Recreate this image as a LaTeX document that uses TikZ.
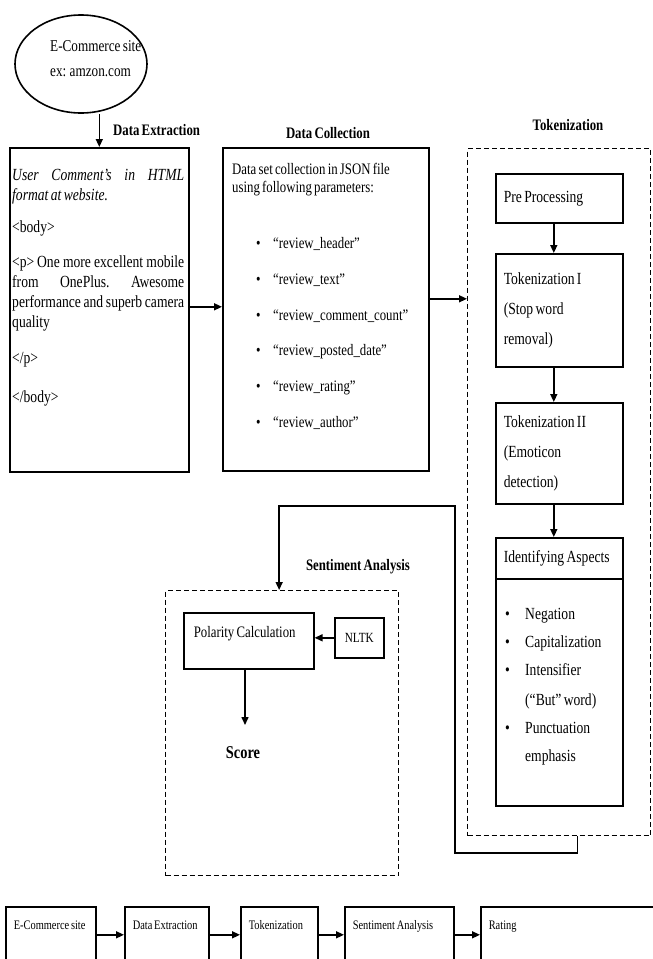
\documentclass[tikz,border=0pt]{standalone}
\usepackage{fontspec}
\setmainfont{Liberation Serif}[FakeStretch=0.8,WordSpace=0.7]
\usetikzlibrary{arrows.meta,shapes.geometric,positioning}

\def\bul{\makebox[20pt][l]{\textbullet}}
\def\dbul{\hspace*{24pt}\makebox[17pt][l]{\textbullet}}

\begin{document}
\begin{tikzpicture}[x=1pt,y=-1pt,
  box/.style={draw=black,line width=1.6pt,anchor=north west,inner xsep=8pt,inner ysep=0pt,align=flush left},
  sbox/.style={draw=black,line width=1.6pt,anchor=north west,inner sep=0pt},
  dashbox/.style={draw=black,line width=1.3pt,dash pattern=on 5pt off 3pt,anchor=north west,inner sep=0pt},
  title/.style={font=\fontsize{16}{18}\selectfont\bfseries,inner sep=0pt},
  plain/.style={inner sep=0pt,anchor=north west,align=flush left},
  rowbox/.style={box,font=\fontsize{13}{14}\selectfont,text height=23pt,text depth=33pt},
  arr/.style={line width=1.5pt,-{Triangle[length=8pt,width=7pt]}}]

\useasboundingbox (0,0) rectangle (653,959);
\clip (0,0) rectangle (653,959);

% site and data extraction %
\node[draw,ellipse,line width=1.6pt,minimum width=132pt,minimum height=98pt,inner sep=0pt] (site) at (81,64) {};
\node[plain,font=\fontsize{16.5}{25}\selectfont] (siteT) at (50,40.5) {E-Commerce site\\ex: amzon.com};
\node[title,anchor=west] (extL) at (113,130) {Data Extraction};
\node[sbox,minimum width=179pt,minimum height=324pt] (ext) at (9,147) {};
\node[plain,text width=172pt,font=\fontsize{17}{20}\selectfont] (extT) at (12,169) {%
{\itshape\makebox[172pt][l]{User\hfill Comment's\hfill in\hfill HTML}\\ format at website.}\\[12pt]
<body>\\[15pt]
\makebox[172pt][l]{<p>\,One\hfill more\hfill excellent\hfill mobile}\\
\makebox[172pt][l]{from\hfill OnePlus.\hfill Awesome}\\
\makebox[172pt][l]{performance\hfill and\hfill superb\hfill camera}\\
quality\\[16pt]
</p>\\[19pt]
</body>};

% data collection %
\node[title] (colL) at (328,133) {Data Collection};
\node[sbox,minimum width=206pt,minimum height=323pt] (col) at (222,147) {};
\node[plain,font=\fontsize{16}{18}\selectfont] (colT) at (232,163) {Data set collection in JSON file\\
using following parameters:\\[38pt]
\dbul “review\_header”\\[17.8pt]
\dbul “review\_text”\\[17.8pt]
\dbul “review\_comment\_count”\\[17.8pt]
\dbul “review\_posted\_date”\\[17.8pt]
\dbul “review\_rating”\\[17.8pt]
\dbul “review\_author”};

% tokenization %
\node[title] (tokL) at (568,125) {Tokenization};
\node[dashbox,minimum width=183pt,minimum height=687pt] (tokbox) at (467,148) {};
\node[box,text width=111pt,minimum height=49pt,font=\fontsize{17}{30}\selectfont] (pre) at (495,173) {Pre Processing};
\node[box,text width=111pt,minimum height=113pt,font=\fontsize{17}{30}\selectfont] (tok1) at (495,253) {Tokenization I\\(Stop word\\removal)};
\node[box,text width=111pt,minimum height=101pt,font=\fontsize{17}{30}\selectfont] (tok2) at (495,402) {Tokenization II\\(Emoticon\\detection)};
\node[box,text width=111pt,minimum height=268pt] (asp) at (495,537) {};
\node[box,text width=111pt,minimum height=41pt,font=\fontsize{17}{30}\selectfont] (asph) at (495,537) {Identifying Aspects};
\node[plain,font=\fontsize{17}{28}\selectfont] (aspT) at (505,608) {\bul Negation\\
\bul Capitalization\\
\bul Intensifier\\[2pt]
\hspace*{20pt}(“But” word)\\
\bul Punctuation\\
\hspace*{20pt}emphasis};

\draw[arr] ([xshift=-5.5pt]pre.south) -- ([xshift=-5.5pt]tok1.north);
\draw[arr] ([xshift=-5.5pt]tok1.south) -- ([xshift=-5.5pt]tok2.north);
\draw[arr] ([xshift=-5.5pt]tok2.south) -- ([xshift=-5.5pt]asp.north);

% sentiment analysis %
\node[title] (sentiL) at (358,567) {Sentiment Analysis};
\node[dashbox,minimum width=233pt,minimum height=285pt] (senti) at (165,590) {};
\node[box,inner xsep=10pt,text width=110pt,text height=25pt,text depth=31pt,font=\fontsize{16}{18}\selectfont] (pol) at (183,612) {Polarity Calculation};
\node[sbox,minimum width=49pt,minimum height=40pt,font=\fontsize{14}{15}\selectfont] (nltk) at (334,617) {NLTK};
\node[font=\fontsize{18}{20}\selectfont\bfseries,inner sep=0pt] (score) at (243,753) {Score};
\coordinate (scoreIn) at (245,725);
\draw[arr] (nltk.west) -- (nltk.west -| pol.east);
\draw[arr] (pol.south -| scoreIn) -- (scoreIn);

% main flow %
\coordinate (extOut) at ([yshift=3pt]ext.east);
\coordinate (colOut) at ([yshift=10.5pt]col.east);
\draw[arr] (site.south -| ext.north) -- (ext.north);
\draw[arr] (extOut) -- (extOut -| col.west);
\draw[arr] (colOut) -- (colOut -| tokbox.west);

% back to sentiment analysis %
\coordinate (c1) at (455,853);
\coordinate (c2) at (455,506);
\draw[arr] ([xshift=18.5pt]tokbox.south) |- (c1) -- (c2) -| ([xshift=-3pt]senti.north);

% overview row %
\node[rowbox,text width=74pt] (b1) at (5,906) {E-Commerce site};
\node[rowbox,text width=68pt] (b2) at (124,906) {Data Extraction};
\node[rowbox,text width=61pt] (b3) at (240,906) {Tokenization};
\node[rowbox,text width=93pt] (b4) at (344,906) {Sentiment Analysis};
\node[rowbox,text width=184pt] (b5) at (480,906) {Rating};
\foreach \a/\b in {b1/b2,b2/b3,b3/b4,b4/b5}
  \draw[arr] (\a.east) -- (\b.west);

\end{tikzpicture}
\end{document}
